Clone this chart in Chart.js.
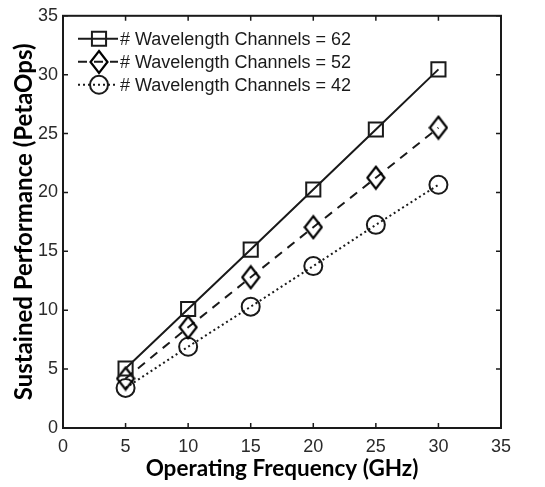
<!DOCTYPE html>
<html>
<head>
    <script src="https://cdn.jsdelivr.net/npm/chart.js"></script>
    <style>
        body { margin: 0; background: #fff; }
        #wrap { width: 545px; height: 487px; }
    </style>
</head>
<body>
    <div id="wrap"><canvas id="myChart" width="545" height="487"></canvas></div>
    <script>
        // frequencies (GHz)
        const freqs = [5, 10, 15, 20, 25, 30]
        // sustained performance (PetaOps) per wavelength channel count
        const perf62 = [5.05, 10.1, 15.15, 20.25, 25.35, 30.45]
        const perf52 = [4.2, 8.55, 12.8, 17.05, 21.25, 25.5]
        const perf42 = [3.4, 6.9, 10.3, 13.75, 17.25, 20.65]
        const seriesLabels = ['# Wavelength Channels = 62', '# Wavelength Channels = 52', '# Wavelength Channels = 42']
        const axisTicks = [0, 5, 10, 15, 20, 25, 30, 35]

        const ink = '#1a1a1a'

        function toPoints(vals) {
            return freqs.map((f, i) => ({x: f, y: vals[i]}))
        }

        // tall matlab-ish diamond marker
        function diamondCanvas() {
            const c = document.createElement('canvas')
            c.width = 20; c.height = 26
            const g = c.getContext('2d')
            g.strokeStyle = '#000'
            g.lineWidth = 2.2
            g.beginPath()
            g.moveTo(10, 2); g.lineTo(18.5, 13); g.lineTo(10, 24); g.lineTo(1.5, 13)
            g.closePath()
            g.stroke()
            return c
        }
        const diamond = diamondCanvas()

        function drawMarker(ctx, ds, x, y) {
            ctx.beginPath()
            if (ds.pointStyle === 'rect') {
                const s = ds.pointRadius * Math.SQRT1_2
                ctx.rect(x - s, y - s, 2 * s, 2 * s)
                ctx.stroke()
            } else if (ds.pointStyle === 'circle') {
                ctx.arc(x, y, ds.pointRadius, 0, Math.PI * 2)
                ctx.stroke()
            } else {
                ctx.drawImage(ds.pointStyle, Math.round(x - ds.pointStyle.width / 2), Math.round(y - ds.pointStyle.height / 2))
            }
        }

        // matlab style box, inward ticks and legend
        const boxPlugin = {
            id: 'boxPlugin',
            afterDatasetsDraw(chart) {
                const {ctx, chartArea: a, scales} = chart
                ctx.save()
                ctx.strokeStyle = ink
                ctx.lineWidth = 2
                ctx.setLineDash([])
                ctx.strokeRect(a.left, a.top, a.right - a.left, a.bottom - a.top)
                ctx.lineWidth = 1.5
                axisTicks.forEach(v => {
                    const px = scales.x.getPixelForValue(v)
                    const py = scales.y.getPixelForValue(v)
                    ctx.beginPath()
                    ctx.moveTo(px, a.bottom); ctx.lineTo(px, a.bottom - 5)
                    ctx.moveTo(px, a.top); ctx.lineTo(px, a.top + 5)
                    ctx.moveTo(a.left, py); ctx.lineTo(a.left + 5, py)
                    ctx.moveTo(a.right, py); ctx.lineTo(a.right - 5, py)
                    ctx.stroke()
                })

                // legend
                ctx.font = '18px "Liberation Sans", Arial, sans-serif'
                ctx.textBaseline = 'middle'
                ctx.fillStyle = ink
                chart.data.datasets.forEach((ds, i) => {
                    const y = a.top + 23 + i * 23
                    const x0 = a.left + 15
                    ctx.lineWidth = 2
                    ctx.setLineDash(ds.borderDash || [])
                    ctx.beginPath()
                    ctx.moveTo(x0, y); ctx.lineTo(x0 + 40, y)
                    ctx.stroke()
                    ctx.setLineDash([])
                    drawMarker(ctx, ds, x0 + 21, y)
                    ctx.fillText(ds.label, a.left + 57, y + 1)
                })
                ctx.restore()
            }
        }

        const ctx = document.getElementById('myChart')
        const myChart = new Chart(ctx, {
            type: 'line',
            data: {
                datasets: [{
                    label: seriesLabels[0],
                    data: toPoints(perf62),
                    borderColor: ink,
                    borderWidth: 2,
                    pointStyle: 'rect',
                    pointRadius: 10,
                    pointBorderWidth: 2,
                    pointBorderColor: ink,
                    pointBackgroundColor: 'rgba(0,0,0,0)'
                }, {
                    label: seriesLabels[1],
                    data: toPoints(perf52),
                    borderColor: ink,
                    borderWidth: 2,
                    borderDash: [9, 7],
                    pointStyle: diamond,
                    pointRadius: 10,
                    pointBorderWidth: 2,
                    pointBorderColor: ink,
                    pointBackgroundColor: 'rgba(0,0,0,0)'
                }, {
                    label: seriesLabels[2],
                    data: toPoints(perf42),
                    borderColor: ink,
                    borderWidth: 2,
                    borderDash: [2, 3],
                    pointStyle: 'circle',
                    pointRadius: 9,
                    pointBorderWidth: 2,
                    pointBorderColor: ink,
                    pointBackgroundColor: 'rgba(0,0,0,0)'
                }]
            },
            options: {
                responsive: false,
                animation: false,
                layout: {padding: {top: 13, right: 44, left: 0, bottom: 0}},
                plugins: {legend: {display: false}, tooltip: {enabled: false}},
                scales: {
                    x: {
                        type: 'linear',
                        min: 0, max: 35,
                        afterBuildTicks: s => { s.ticks = axisTicks.map(v => ({value: v})) },
                        afterFit: s => { s.height = 59 },
                        grid: {display: false, drawTicks: false},
                        border: {display: false},
                        ticks: {color: '#2a2a2a', padding: 8, font: {family: '"Liberation Sans", Arial, sans-serif', size: 18}},
                        title: {display: true, text: 'Operating Frequency (GHz)', color: '#000', padding: {top: 0, bottom: 5},
                            font: {family: 'Lato, "Open Sans", sans-serif', size: 22.5, weight: 'bold'}}
                    },
                    y: {
                        min: 0, max: 35,
                        afterBuildTicks: s => { s.ticks = axisTicks.map(v => ({value: v})) },
                        afterFit: s => { s.width = 63 },
                        grid: {display: false, drawTicks: false},
                        border: {display: false},
                        ticks: {color: '#2a2a2a', padding: 5, font: {family: '"Liberation Sans", Arial, sans-serif', size: 18}},
                        title: {display: true, text: 'Sustained Performance (PetaOps)', color: '#000', padding: {top: 10, bottom: 0},
                            font: {family: 'Lato, "Open Sans", sans-serif', size: 24, weight: 'bold'}}
                    }
                }
            },
            plugins: [boxPlugin]
        })
    </script>
</body>
</html>
